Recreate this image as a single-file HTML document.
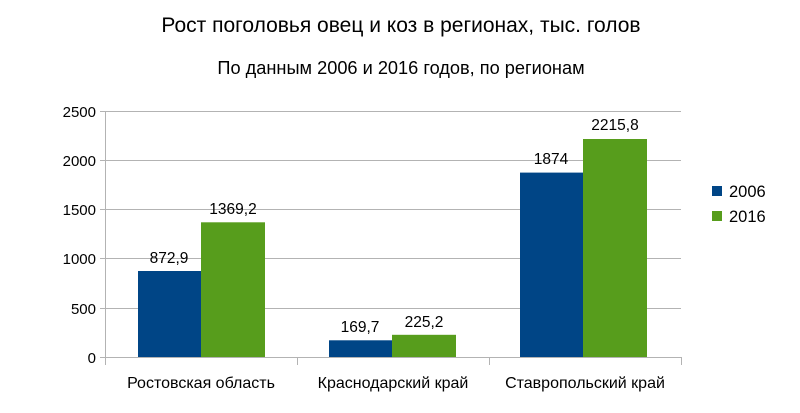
<!DOCTYPE html>
<html><head><meta charset="utf-8"><style>body{margin:0;background:#fff}</style></head><body>
<svg width="800" height="408" xmlns="http://www.w3.org/2000/svg" font-family="Liberation Sans, DejaVu Sans, sans-serif">
<rect width="800" height="408" fill="#fff"/>
<text x="401" y="32" font-size="21" text-anchor="middle" fill="#000">Рост поголовья овец и коз в регионах, тыс. голов</text>
<text x="401" y="74" font-size="18.2" text-anchor="middle" fill="#000">По данным 2006 и 2016 годов, по регионам</text>
<g stroke="#b3b3b3" stroke-width="1">
<line x1="100" y1="111.5" x2="681" y2="111.5"/>
<line x1="100" y1="160.5" x2="681" y2="160.5"/>
<line x1="100" y1="209.5" x2="681" y2="209.5"/>
<line x1="100" y1="258.5" x2="681" y2="258.5"/>
<line x1="100" y1="308.5" x2="681" y2="308.5"/>
<line x1="100" y1="357.5" x2="681" y2="357.5"/>
<line x1="105.5" y1="111" x2="105.5" y2="365"/>
<line x1="297.5" y1="357" x2="297.5" y2="365"/>
<line x1="489.5" y1="357" x2="489.5" y2="365"/>
<line x1="681.5" y1="357" x2="681.5" y2="365"/>
</g>
<g font-size="15" text-anchor="end" fill="#000">
<text x="96" y="117">2500</text><text x="96" y="166">2000</text><text x="96" y="215">1500</text>
<text x="96" y="264">1000</text><text x="96" y="314">500</text><text x="96" y="363">0</text>
</g>
<g fill="#004586">
<rect x="138" y="271" width="63" height="86"/>
<rect x="329" y="340.3" width="63" height="16.7"/>
<rect x="520" y="172.6" width="63" height="184.4"/>
</g>
<g fill="#579d1c">
<rect x="201" y="222.3" width="64" height="134.7"/>
<rect x="392" y="334.8" width="64" height="22.2"/>
<rect x="583" y="139" width="64" height="218"/>
</g>
<g font-size="15.5" text-anchor="middle" fill="#000">
<text x="169" y="263">872,9</text><text x="233" y="214">1369,2</text>
<text x="360" y="332">169,7</text><text x="424" y="327">225,2</text>
<text x="551" y="164">1874</text><text x="615" y="130">2215,8</text>
</g>
<g font-size="16" text-anchor="middle" fill="#000">
<text x="201" y="388">Ростовская область</text>
<text x="393" y="388">Краснодарский край</text>
<text x="585" y="388">Ставропольский край</text>
</g>
<rect x="712" y="186" width="10" height="10" fill="#004586"/>
<rect x="712" y="211" width="10" height="10" fill="#579d1c"/>
<g font-size="16.5" fill="#000"><text x="729" y="197">2006</text><text x="729" y="222">2016</text></g>
</svg>
</body></html>
